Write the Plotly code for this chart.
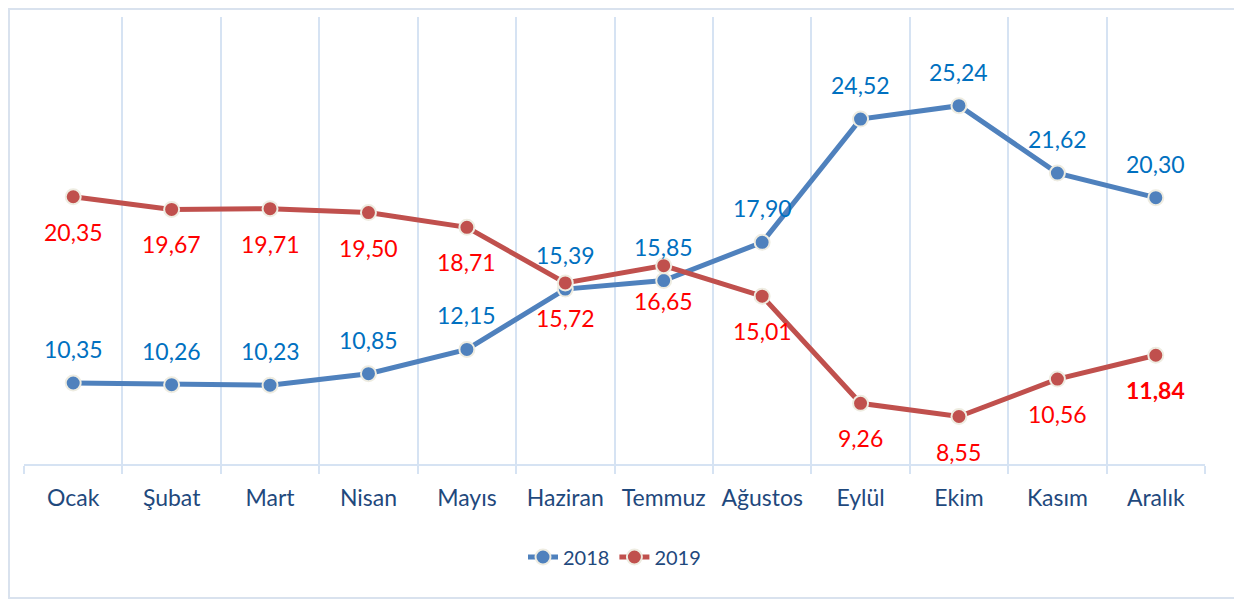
import plotly.graph_objects as go

months = ["Ocak", "Şubat", "Mart", "Nisan", "Mayıs", "Haziran", "Temmuz",
          "Ağustos", "Eylül", "Ekim", "Kasım", "Aralık"]
y2018 = [10.35, 10.26, 10.23, 10.85, 12.15, 15.39, 15.85, 17.90, 24.52, 25.24, 21.62, 20.30]
y2019 = [20.35, 19.67, 19.71, 19.50, 18.71, 15.72, 16.65, 15.01, 9.26, 8.55, 10.56, 11.84]

BLUE = "#4f81bd"
RED = "#c0504d"
BLUE_TXT = "#0070c0"
RED_TXT = "#ff0000"
GRID = "#d6e3f3"
FONT = "Lato"

def fmt(v):
    return f"{v:.2f}".replace(".", ",")

fig = go.Figure()
for name, ys, col in [("2018", y2018, BLUE), ("2019", y2019, RED)]:
    fig.add_trace(go.Scatter(
        x=months, y=ys, name=name, mode="lines+markers",
        line=dict(color=col, width=5),
        marker=dict(size=15, color=col, line=dict(color="#eeece1", width=2)),
        hoverinfo="skip",
    ))

annotations = []
for i, m in enumerate(months):
    annotations.append(dict(x=m, y=y2018[i], text=fmt(y2018[i]), showarrow=False,
                            yshift=34, font=dict(family=FONT, size=23, color=BLUE_TXT)))
    t = fmt(y2019[i])
    if i == len(months) - 1:
        t = f"<b>{t}</b>"
    annotations.append(dict(x=m, y=y2019[i], text=t, showarrow=False,
                            yshift=-35, font=dict(family=FONT, size=23, color=RED_TXT)))

fig.update_layout(
    width=1242, height=602,
    margin=dict(l=16, r=45, t=9, b=146, autoexpand=False),
    paper_bgcolor="white", plot_bgcolor="white",
    font=dict(family=FONT, size=20, color="#1f497d"),
    showlegend=True,
    legend=dict(orientation="h", x=0.5, xanchor="center", y=-0.208, yanchor="middle",
                font=dict(family=FONT, size=20, color="#1f497d"),
                traceorder="normal"),
    annotations=annotations,
    shapes=[dict(type="rect", xref="paper", yref="paper",
                 x0=-0.0127, x1=1.0262, y0=-0.2998, y1=1.0179,
                 line=dict(color="#d9e2ee", width=2), fillcolor="rgba(0,0,0,0)", layer="below")],
)
fig.update_xaxes(
    type="category", tickson="boundaries", showgrid=True, gridcolor=GRID, gridwidth=2,
    showline=True, linecolor=GRID, linewidth=2, ticks="outside", ticklen=8,
    tickcolor=GRID, tickwidth=2, range=[-0.5, 11.5], zeroline=False,
    ticklabelstandoff=12,
    tickfont=dict(family=FONT, size=23, color="#1f497d"),
)
fig.update_yaxes(range=[6, 30], showgrid=False, showticklabels=False,
                 zeroline=False, showline=False, ticks="")

fig.write_html("out.html")
